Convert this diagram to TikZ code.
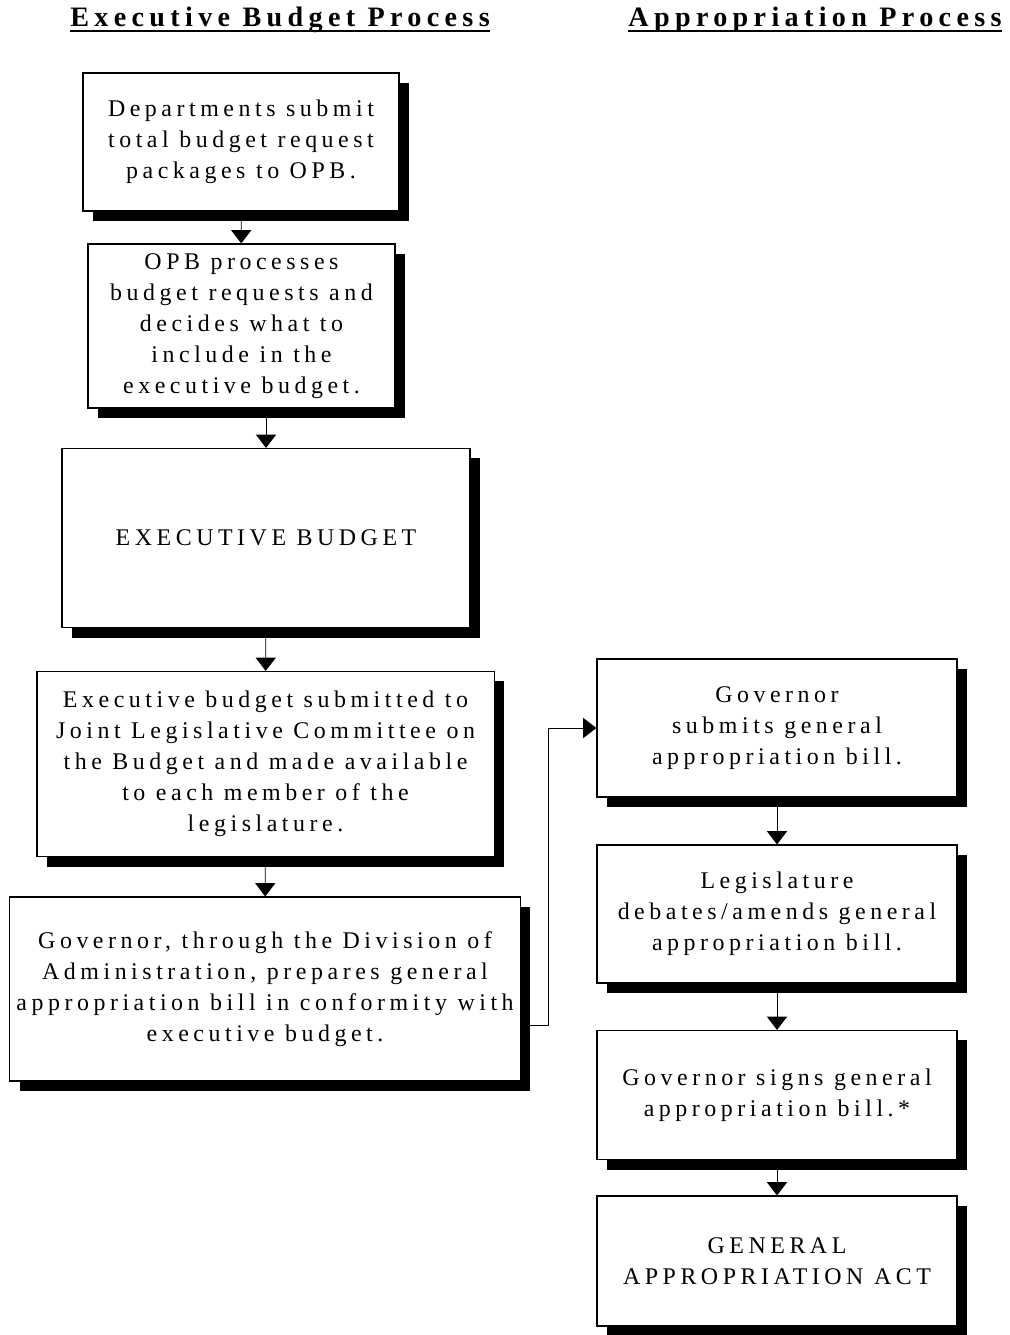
\documentclass[tikz,border=0pt]{standalone}
\usepackage{fontspec}
\setmainfont{Liberation Serif}[LetterSpace=19]
\usepackage{tikz}
\usetikzlibrary{arrows.meta,shadows}

\tikzset{
  heading/.style={font=\fontsize{20}{22}\selectfont\bfseries, inner sep=0pt},
  headline/.style={line width=1.3pt},
  stepbox/.style={draw, line width=0.8pt, fill=white, align=center, inner sep=2pt,
    font=\fontsize{17}{22}\selectfont,
    drop shadow={shadow xshift=0.25cm, shadow yshift=-0.25cm, fill=black, opacity=1}},
  flow/.style={line width=0.6pt, -{Triangle[width=0.5cm,length=0.33cm]}}
}

\begin{document}
\begin{tikzpicture}[x=0.025cm, y=-0.025cm]
\useasboundingbox (0,0) rectangle (1009,1335);
% headings
\path (280,20) node[heading] (exechead)  {Executive Budget Process};
\path (815,20) node[heading] (approhead) {Appropriation Process};
\draw [headline] ([yshift=-0.1cm]exechead.base west)  -- ([yshift=-0.1cm]exechead.base east);
\draw [headline] ([yshift=-0.1cm]approhead.base west) -- ([yshift=-0.1cm]approhead.base east);
% executive budget process
\path (241,142)  node[stepbox, minimum width=7.9cm,  minimum height=3.45cm]  (dept)   {Departments submit\\total budget request\\packages to OPB.};
\path (241.5,326) node[stepbox, minimum width=7.675cm, minimum height=4.1cm] (opb)    {OPB processes\\budget requests and\\decides what to\\include in the\\executive budget.};
\path (266,538)  node[stepbox, minimum width=10.2cm, minimum height=4.475cm] (budget) {EXECUTIVE BUDGET};
\path (265.5,764) node[stepbox, minimum width=11.425cm, minimum height=4.625cm] (jlcb) {Executive budget submitted to\\Joint Legislative Committee on\\the Budget and made available\\to each member of the\\legislature.};
\path (265,989)  node[stepbox, minimum width=12.75cm, minimum height=4.6cm]  (prep)   {Governor, through the Division of\\Administration, prepares general\\appropriation bill in conformity with\\executive budget.};
% appropriation process
\path (777,728)  node[stepbox, minimum width=9cm, minimum height=3.45cm]  (submit) {Governor\\submits general\\appropriation bill.};
\path (777,914)  node[stepbox, minimum width=9cm, minimum height=3.45cm]  (debate) {Legislature\\debates/amends general\\appropriation bill.};
\path (777,1095) node[stepbox, minimum width=9cm, minimum height=3.225cm] (signs)  {Governor signs general\\appropriation bill.*};
\path (777,1261) node[stepbox, minimum width=9cm, minimum height=3.25cm]  (act)    {GENERAL\\APPROPRIATION ACT};
% arrows
\draw [flow] (dept) -- (opb);
\draw [flow] (opb.south -| budget.north) -- (budget);
\draw [flow] (budget) -- (jlcb);
\draw [flow] (jlcb) -- (prep);
\draw [flow] ([yshift=-0.9cm]prep.east) -- ++(0.7cm,0) |- (submit.west);
\draw [flow] (submit) -- (debate);
\draw [flow] (debate) -- (signs);
\draw [flow] (signs) -- (act);
\end{tikzpicture}
\end{document}
